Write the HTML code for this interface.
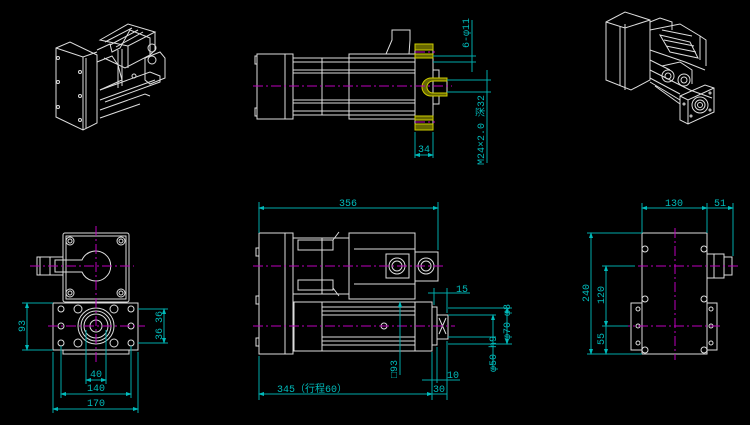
<!DOCTYPE html>
<html><head><meta charset="utf-8"><style>
html,body{margin:0;padding:0;background:#000;}
svg{display:block;}
text{font-family:"Liberation Mono","Noto Sans CJK SC",monospace;font-size:10px;fill:#0bb;}
</style></head><body>
<svg width="750" height="425" viewBox="0 0 750 425" xmlns="http://www.w3.org/2000/svg">
<defs>
<marker id="a" markerWidth="6" markerHeight="4" refX="5" refY="2" orient="auto-start-reverse"><path d="M0,0L6,2L0,4z" fill="#0bb"/></marker>
</defs>
<rect width="750" height="425" fill="#000"/>
<g stroke="#ddd" fill="none" stroke-width="1">
<!-- Top-left isometric -->
<path d="M56,48 L70,42 L97,55 L97,123 L83,130 L56,117 Z"/>
<path d="M83,57 L83,130 M56,48 L83,57 L97,52 M86,58 L86,128"/>
<path d="M97,50 L110,44 L112,52 L120,48 L130,30 L150,38 L150,55 L125,68 L104,58"/>
<path d="M100,40 L128,24 L155,32 L128,46 Z M105,42 L132,28 M110,45 L138,30 M116,47 L143,32"/>
<path d="M128,46 L128,68 M155,32 L155,50 L150,55"/>
<path d="M97,62 L112,56 L118,65 L122,80 L100,90"/>
<path d="M100,90 L150,72 L160,76 L160,82 L105,102 M100,100 L155,80 M100,110 L145,94 L150,96 M100,118 L140,104"/>
<path d="M145,58 L160,52 L165,58 L165,78 L150,84 L145,80 Z"/>
<circle cx="152" cy="48" r="4"/><circle cx="152" cy="60" r="4"/><circle cx="134" cy="76" r="2"/>
<path d="M118,50 L118,88 M122,49 L122,86"/>
<circle cx="58" cy="58" r="1.5"/><circle cx="58" cy="82" r="1.5"/><circle cx="58" cy="107" r="1.5"/><circle cx="80" cy="72" r="1.5"/><circle cx="80" cy="96" r="1.5"/><circle cx="80" cy="120" r="1.5"/>
<!-- Top-right isometric -->
<path d="M606,22 L625,12 L650,20 L650,80 L631,90 L606,80 Z M625,24 L625,90 M606,22 L625,28 L650,20 M620,26 L620,86"/>
<path d="M650,22 L660,18 L672,22 L672,30 M650,30 L680,24 L700,36 L700,60"/>
<path d="M660,35 L690,42 L698,58 L670,52 Z M662,30 L692,36 M664,40 L694,46 M666,46 L696,52 M700,36 L706,40 L706,66"/>
<path d="M650,50 L685,62 L705,70 M650,60 L670,70"/>
<path d="M650,70 L690,90 L712,98 M650,78 L680,94 M650,82 L680,100 L680,112 M655,86 L680,104"/>
<circle cx="668" cy="76" r="6"/><circle cx="668" cy="76" r="3"/><circle cx="684" cy="80" r="6"/><circle cx="684" cy="80" r="3"/>
<path d="M662,66 L680,62 L692,70 L692,84"/>
<path d="M680,96 L705,85 L714,88 L714,112 L688,124 L680,120 Z M688,100 L688,124 M680,96 L688,100 L714,88"/>
<circle cx="700" cy="105" r="8"/><circle cx="700" cy="105" r="5"/><circle cx="700" cy="105" r="2.5"/>
<circle cx="710" cy="93" r="1"/><circle cx="710" cy="110" r="1"/><circle cx="691" cy="116" r="1"/><circle cx="684" cy="104" r="1"/>
<!-- Top center side view -->
<rect x="257" y="54" width="36" height="65"/><line x1="285" y1="54" x2="285" y2="119"/>
<path d="M257,56 v8 h-2 v-8z M257,108 v8 h-2 v-8z"/>
<rect x="293" y="58" width="122" height="57"/>
<line x1="322" y1="58" x2="322" y2="115"/><line x1="349" y1="54" x2="349" y2="119"/>
<rect x="349" y="54" width="66" height="65"/>
<line x1="293" y1="62" x2="415" y2="62"/><line x1="293" y1="70" x2="415" y2="70"/><line x1="293" y1="73" x2="415" y2="73"/>
<line x1="293" y1="100" x2="415" y2="100"/><line x1="293" y1="103" x2="415" y2="103"/><line x1="293" y1="111" x2="415" y2="111"/>
<path d="M386,54 L392,40 L392,30 L410,30 L410,40 L409,54"/>
<rect x="415" y="44" width="18" height="86"/>
<path d="M433,70 h6 v8 h8 v18 h-8 v8 h-6"/>
<!-- Bottom-left front view -->
<rect x="63" y="233" width="66" height="69" rx="2"/>
<rect x="66" y="236" width="60" height="63"/>
<path d="M63,257 h-26 v18 h26 M40,257 v18 M50,257 v18"/>
<path d="M55,260 h27 a15,15 0 1 1 0,12 h-27 z"/>
<circle cx="70" cy="241" r="4"/><circle cx="121" cy="241" r="4"/><circle cx="70" cy="293" r="4"/><circle cx="121" cy="293" r="4"/>
<circle cx="70" cy="241" r="2"/><circle cx="121" cy="241" r="2"/><circle cx="70" cy="293" r="2"/><circle cx="121" cy="293" r="2"/>
<rect x="53" y="303" width="85" height="47"/>
<rect x="63" y="350" width="66" height="4"/>
<circle cx="96" cy="326" r="18"/><circle cx="96" cy="326" r="15"/><circle cx="96" cy="326" r="12"/><circle cx="96" cy="326" r="6"/>
<circle cx="78" cy="309" r="4"/><circle cx="114" cy="309" r="4"/><circle cx="78" cy="343" r="4"/><circle cx="114" cy="343" r="4"/>
<circle cx="61" cy="309" r="3"/><circle cx="131" cy="309" r="3"/><circle cx="61" cy="326" r="3"/><circle cx="131" cy="326" r="3"/><circle cx="61" cy="343" r="3"/><circle cx="131" cy="343" r="3"/>
<!-- Bottom center side view -->
<rect x="259" y="233" width="34" height="121"/><line x1="285" y1="233" x2="285" y2="354"/>
<path d="M259,248 h-3 v8 h3 M259,296 h-3 v8 h3 M259,338 h-3 v8 h3"/>
<rect x="293" y="238" width="56" height="56"/>
<path d="M298,240 h35 v10 h-35 z M298,280 h35 v10 h-35 z M322,238 v56 M333,240 l6,-8 M333,288 l6,8"/>
<rect x="349" y="233" width="66" height="66"/>
<line x1="354" y1="249" x2="415" y2="249"/><line x1="354" y1="284" x2="415" y2="284"/>
<rect x="386" y="254" width="23" height="24"/><circle cx="397" cy="266" r="8"/><circle cx="397" cy="266" r="5"/>
<rect x="415" y="252" width="23" height="29"/><circle cx="426" cy="266" r="8"/><circle cx="426" cy="266" r="5"/>
<rect x="294" y="302" width="138" height="49"/>
<line x1="322" y1="302" x2="322" y2="351"/><line x1="415" y1="302" x2="415" y2="351"/>
<line x1="322" y1="307" x2="415" y2="307"/><line x1="322" y1="311" x2="415" y2="311"/><line x1="322" y1="315" x2="415" y2="315"/><line x1="322" y1="337" x2="415" y2="337"/><line x1="322" y1="341" x2="415" y2="341"/><line x1="322" y1="345" x2="415" y2="345"/>
<circle cx="384" cy="326" r="3"/>
<rect x="432" y="307" width="5" height="38"/><rect x="437" y="315" width="11" height="24"/>
<path d="M439,318 l7,16 M446,318 l-7,16"/>
<!-- Bottom-right view -->
<rect x="642" y="233" width="65" height="121"/>
<path d="M707,254 h17 v24 h-17 M714,254 v24"/>
<rect x="724" y="257" width="8" height="18"/>
<path d="M642,303 h-11 v47 h11 M707,303 h10 v47 h-10"/>
<circle cx="645" cy="249" r="3"/><circle cx="704" cy="249" r="3"/><circle cx="645" cy="299" r="3"/><circle cx="704" cy="299" r="3"/><circle cx="645" cy="350" r="3"/><circle cx="704" cy="350" r="3"/>
<circle cx="638" cy="309" r="2"/><circle cx="638" cy="326" r="2"/><circle cx="638" cy="343" r="2"/><circle cx="711" cy="309" r="2"/><circle cx="711" cy="326" r="2"/><circle cx="711" cy="343" r="2"/>
</g>
<!-- yellow hatch -->
<g stroke="#cc0" fill="#660" stroke-width="1">
<rect x="415" y="44" width="18" height="6"/><rect x="415" y="54" width="18" height="4"/>
<rect x="415" y="116" width="18" height="4"/><rect x="415" y="124" width="18" height="6"/>
<path d="M447,78 h-16 a8,8 0 0 0 0,18 h16 v-3 h-14 a5,5 0 0 1 0,-12 h14z"/>
</g>
<!-- centerlines -->
<g stroke="#b0b" stroke-width="1" stroke-dasharray="10,3,2,3" fill="none">
<line x1="253" y1="86" x2="452" y2="86"/>
<line x1="415" y1="52" x2="435" y2="52"/><line x1="415" y1="122" x2="435" y2="122"/>
<line x1="253" y1="266" x2="443" y2="266"/><line x1="253" y1="326" x2="455" y2="326"/>
<line x1="96" y1="226" x2="96" y2="362"/><line x1="30" y1="266" x2="134" y2="266"/><line x1="48" y1="326" x2="145" y2="326"/>
<line x1="675" y1="228" x2="675" y2="360"/><line x1="620" y1="266" x2="738" y2="266"/><line x1="620" y1="326" x2="722" y2="326"/>
</g>
<!-- dimensions -->
<g stroke="#0aa" stroke-width="1" fill="none">
<line x1="259" y1="202" x2="259" y2="233"/><line x1="438" y1="202" x2="438" y2="250"/>
<line x1="259" y1="208" x2="438" y2="208" marker-start="url(#a)" marker-end="url(#a)"/>
<line x1="259" y1="356" x2="259" y2="400"/><line x1="432" y1="352" x2="432" y2="400"/><line x1="447" y1="341" x2="447" y2="400"/>
<line x1="259" y1="394" x2="432" y2="394" marker-start="url(#a)" marker-end="url(#a)"/>
<line x1="432" y1="394" x2="447" y2="394"/>
<line x1="434" y1="288" x2="434" y2="305"/><line x1="447" y1="288" x2="447" y2="313"/>
<line x1="428" y1="293" x2="470" y2="293"/>
<line x1="422" y1="380" x2="460" y2="380"/><line x1="437" y1="347" x2="437" y2="383"/>
<line x1="400" y1="302" x2="400" y2="375" marker-start="url(#a)"/>
<line x1="448" y1="308" x2="512" y2="308"/><line x1="448" y1="344" x2="512" y2="344"/>
<line x1="448" y1="315" x2="496" y2="315"/><line x1="448" y1="337" x2="496" y2="337"/>
<line x1="507" y1="308" x2="507" y2="344" marker-start="url(#a)" marker-end="url(#a)"/>
<line x1="493" y1="315" x2="493" y2="370" marker-start="url(#a)"/>
<line x1="433" y1="56" x2="476" y2="56"/><line x1="433" y1="62" x2="476" y2="62"/>
<line x1="472" y1="20" x2="472" y2="72"/>
<line x1="447" y1="80" x2="491" y2="80"/><line x1="447" y1="92" x2="491" y2="92"/>
<line x1="487" y1="70" x2="487" y2="163"/>
<line x1="415" y1="132" x2="415" y2="158"/><line x1="433" y1="132" x2="433" y2="158"/>
<line x1="415" y1="155" x2="433" y2="155" marker-start="url(#a)" marker-end="url(#a)"/>
<line x1="22" y1="303" x2="53" y2="303"/><line x1="22" y1="350" x2="53" y2="350"/>
<line x1="27" y1="303" x2="27" y2="350" marker-start="url(#a)" marker-end="url(#a)"/>
<line x1="138" y1="309" x2="168" y2="309"/><line x1="138" y1="343" x2="168" y2="343"/>
<line x1="164" y1="309" x2="164" y2="343" marker-start="url(#a)" marker-end="url(#a)"/>
<line x1="86" y1="330" x2="86" y2="384"/><line x1="106" y1="330" x2="106" y2="384"/>
<line x1="86" y1="380" x2="106" y2="380" marker-start="url(#a)" marker-end="url(#a)"/>
<line x1="61" y1="346" x2="61" y2="398"/><line x1="131" y1="346" x2="131" y2="398"/>
<line x1="61" y1="394" x2="131" y2="394" marker-start="url(#a)" marker-end="url(#a)"/>
<line x1="53" y1="352" x2="53" y2="413"/><line x1="138" y1="352" x2="138" y2="413"/>
<line x1="53" y1="409" x2="138" y2="409" marker-start="url(#a)" marker-end="url(#a)"/>
<line x1="642" y1="203" x2="642" y2="233"/><line x1="707" y1="203" x2="707" y2="233"/><line x1="733" y1="203" x2="733" y2="256"/>
<line x1="642" y1="208" x2="707" y2="208" marker-start="url(#a)" marker-end="url(#a)"/>
<line x1="707" y1="208" x2="733" y2="208" marker-end="url(#a)"/>
<line x1="587" y1="233" x2="642" y2="233"/><line x1="587" y1="354" x2="642" y2="354"/>
<line x1="602" y1="266" x2="635" y2="266"/><line x1="602" y1="326" x2="628" y2="326"/>
<line x1="591" y1="233" x2="591" y2="354" marker-start="url(#a)" marker-end="url(#a)"/>
<line x1="606" y1="266" x2="606" y2="326" marker-start="url(#a)" marker-end="url(#a)"/>
<line x1="606" y1="326" x2="606" y2="354" marker-end="url(#a)"/>
</g>
<!-- labels -->
<text x="348" y="206" text-anchor="middle">356</text>
<text x="312" y="392" text-anchor="middle">345（行程60）</text>
<text x="439" y="392" text-anchor="middle">30</text>
<text x="462" y="292" text-anchor="middle">15</text>
<text x="453" y="378" text-anchor="middle">10</text>
<text transform="translate(397,378) rotate(-90)">□93</text>
<text transform="translate(510,340) rotate(-90)">φ70 φ8</text>
<text transform="translate(496,372) rotate(-90)">φ50 h9</text>
<text transform="translate(469,48) rotate(-90)">6-φ11</text>
<text transform="translate(484,165) rotate(-90)">M24×2.0 深32</text>
<text x="424" y="152" text-anchor="middle">34</text>
<text transform="translate(25,332) rotate(-90)">93</text>
<text transform="translate(162,323) rotate(-90)">36</text>
<text transform="translate(162,340) rotate(-90)">36</text>
<text x="96" y="377" text-anchor="middle">40</text>
<text x="96" y="391" text-anchor="middle">140</text>
<text x="96" y="406" text-anchor="middle">170</text>
<text x="674" y="206" text-anchor="middle">130</text>
<text x="720" y="206" text-anchor="middle">51</text>
<text transform="translate(589,302) rotate(-90)">240</text>
<text transform="translate(604,304) rotate(-90)">120</text>
<text transform="translate(604,345) rotate(-90)">55</text>
</svg>
</body></html>
